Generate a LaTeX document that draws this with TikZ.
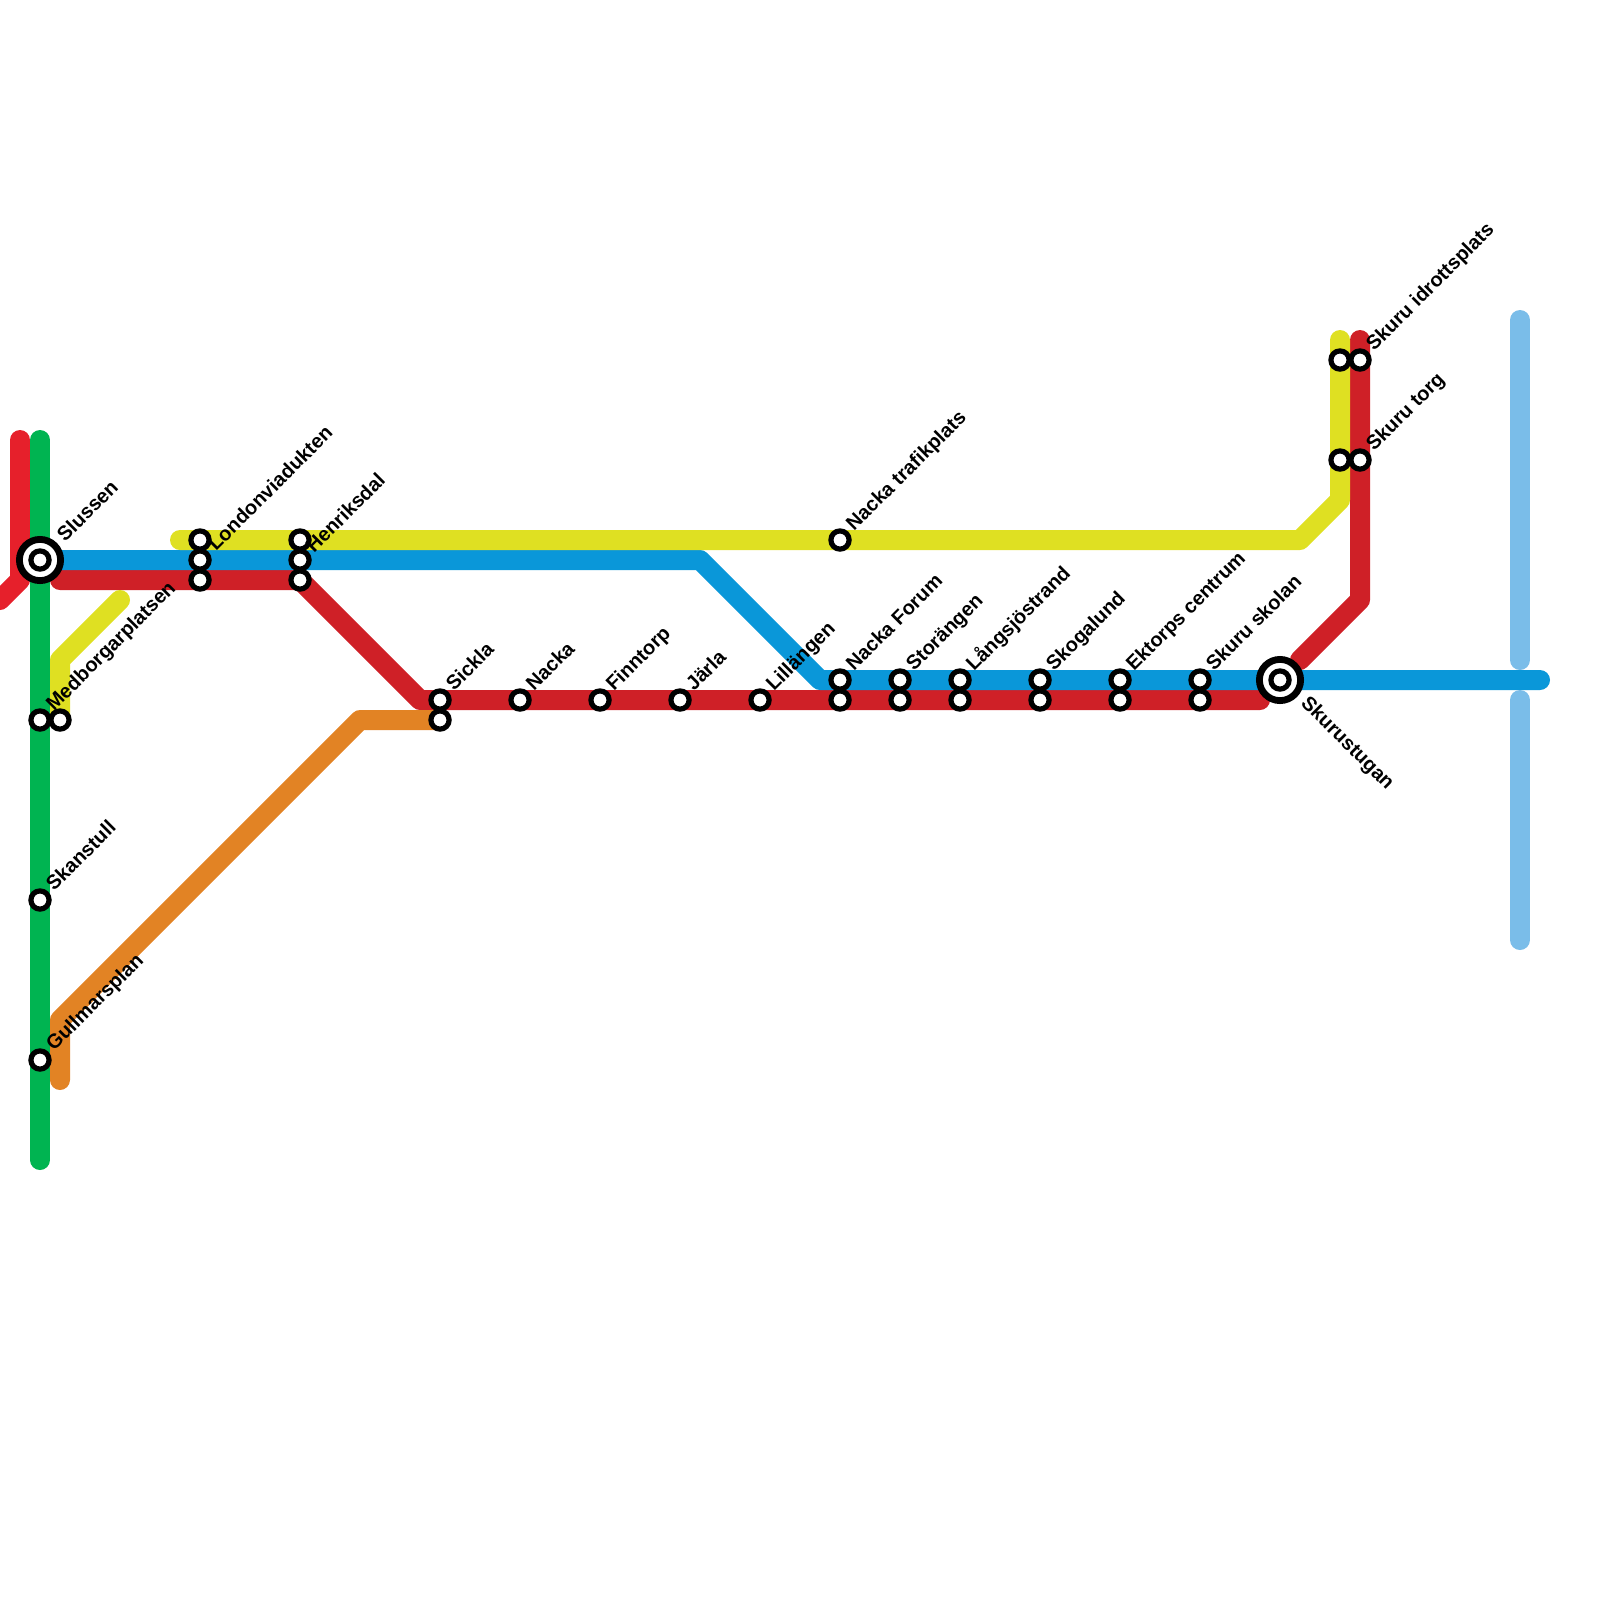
\documentclass[tikz,border=0pt]{standalone}
\usepackage{fontspec}
\setmainfont{Liberation Sans}
\definecolor{redA}{HTML}{E6202B}
\definecolor{redB}{HTML}{CF2027}
\definecolor{greenA}{HTML}{00B451}
\definecolor{blueA}{HTML}{0A97D9}
\definecolor{blueB}{HTML}{7ABDE9}
\definecolor{yellowA}{HTML}{DFE022}
\definecolor{orangeA}{HTML}{E28324}
\tikzset{
  track/.style={line width=5mm,line cap=round,line join=round},
  stn/.style={circle,draw=black,fill=white,line width=1.3mm,minimum size=4.55mm,inner sep=0pt},
  hub/.style={circle,draw=black,fill=white,line width=1.7mm,minimum size=10.3mm,inner sep=0pt},
  lbl/.style={rotate=45,anchor=base west,inner sep=0pt,font=\bfseries\fontsize{14.2}{16}\selectfont},
  lbldown/.style={lbl,rotate=-90}
}
\begin{document}
\begin{tikzpicture}[x=0.5cm,y=-0.5cm]
        \useasboundingbox (0,0) rectangle (80,80);
        % lines
        \draw[track,redA] (1,22) -- (1,29) -- (0,30);
        \draw[track,greenA] (2,22) -- (2,58);
        \draw[track,redB] (3,29) -- (15,29) -- (21,35) -- (63,35);
        \draw[track,redB] (68,17) -- (68,30) -- (65,33);
        \draw[track,blueA] (2,28) -- (35,28) -- (41,34) -- (77,34);
        \draw[track,yellowA] (9,27) -- (65,27) -- (67,25) -- (67,17);
        \draw[track,yellowA] (6,30) -- (3,33) -- (3,36);
        \draw[track,orangeA] (3,54) -- (3,51) -- (18,36) -- (22,36);
        \draw[track,blueB] (76,16) -- (76,33);
        \draw[track,blueB] (76,35) -- (76,47);
        % stations
        \node[hub] (slussenO) at (2,28) {};
        \node[stn] (slussen) at (2,28) {};
        \node[stn] (medborgA) at (2,36) {};
        \node[stn] (medborgB) at (3,36) {};
        \node[stn] (skanstull) at (2,45) {};
        \node[stn] (gullmars) at (2,53) {};
        \node[stn] (londonA) at (10,27) {};
        \node[stn] (londonB) at (10,28) {};
        \node[stn] (londonC) at (10,29) {};
        \node[stn] (henrikA) at (15,27) {};
        \node[stn] (henrikB) at (15,28) {};
        \node[stn] (henrikC) at (15,29) {};
        \node[stn] (sicklaA) at (22,35) {};
        \node[stn] (sicklaB) at (22,36) {};
        \node[stn] (nacka) at (26,35) {};
        \node[stn] (finntorp) at (30,35) {};
        \node[stn] (jarla) at (34,35) {};
        \node[stn] (lillangen) at (38,35) {};
        \node[stn] (trafikplats) at (42,27) {};
        \node[stn] (forumA) at (42,34) {};
        \node[stn] (forumB) at (42,35) {};
        \node[stn] (storangenA) at (45,34) {};
        \node[stn] (storangenB) at (45,35) {};
        \node[stn] (langsjoA) at (48,34) {};
        \node[stn] (langsjoB) at (48,35) {};
        \node[stn] (skogalundA) at (52,34) {};
        \node[stn] (skogalundB) at (52,35) {};
        \node[stn] (ektorpA) at (56,34) {};
        \node[stn] (ektorpB) at (56,35) {};
        \node[stn] (skolanA) at (60,34) {};
        \node[stn] (skolanB) at (60,35) {};
        \node[hub] (stuganO) at (64,34) {};
        \node[stn] (stugan) at (64,34) {};
        \node[stn] (idrottA) at (67,18) {};
        \node[stn] (idrottB) at (68,18) {};
        \node[stn] (torgA) at (67,23) {};
        \node[stn] (torgB) at (68,23) {};
        % labels
        \node[lbl] (lblSlussen) at (3.25,27.15) {Slussen};
        \node[lbl] (lblMedborg) at (2.7,35.6) {Medborgarplatsen};
        \node[lbl] (lblSkanstull) at (2.7,44.6) {Skanstull};
        \node[lbl] (lblGullmars) at (2.7,52.6) {Gullmarsplan};
        \node[lbl] (lblLondon) at (10.8,27.6) {Londonviadukten};
        \node[lbl] (lblHenrik) at (15.7,27.7) {Henriksdal};
        \node[lbl] (lblSickla) at (22.7,34.6) {Sickla};
        \node[lbl] (lblNacka) at (26.7,34.6) {Nacka};
        \node[lbl] (lblFinntorp) at (30.7,34.6) {Finntorp};
        \node[lbl] (lblJarla) at (34.7,34.6) {Järla};
        \node[lbl] (lblLillangen) at (38.7,34.6) {Lillängen};
        \node[lbl] (lblTrafikplats) at (42.7,26.6) {Nacka trafikplats};
        \node[lbl] (lblForum) at (42.7,33.6) {Nacka Forum};
        \node[lbl] (lblStorangen) at (45.7,33.6) {Storängen};
        \node[lbl] (lblLangsjo) at (48.7,33.6) {Långsjöstrand};
        \node[lbl] (lblSkogalund) at (52.7,33.6) {Skogalund};
        \node[lbl] (lblEktorp) at (56.7,33.6) {Ektorps centrum};
        \node[lbl] (lblSkolan) at (60.7,33.6) {Skuru skolan};
        \node[lbldown] (lblStugan) at (65,35.2) {Skurustugan};
        \node[lbl] (lblIdrott) at (68.7,17.6) {Skuru idrottsplats};
        \node[lbl] (lblTorg) at (68.7,22.6) {Skuru torg};
\end{tikzpicture}
\end{document}
